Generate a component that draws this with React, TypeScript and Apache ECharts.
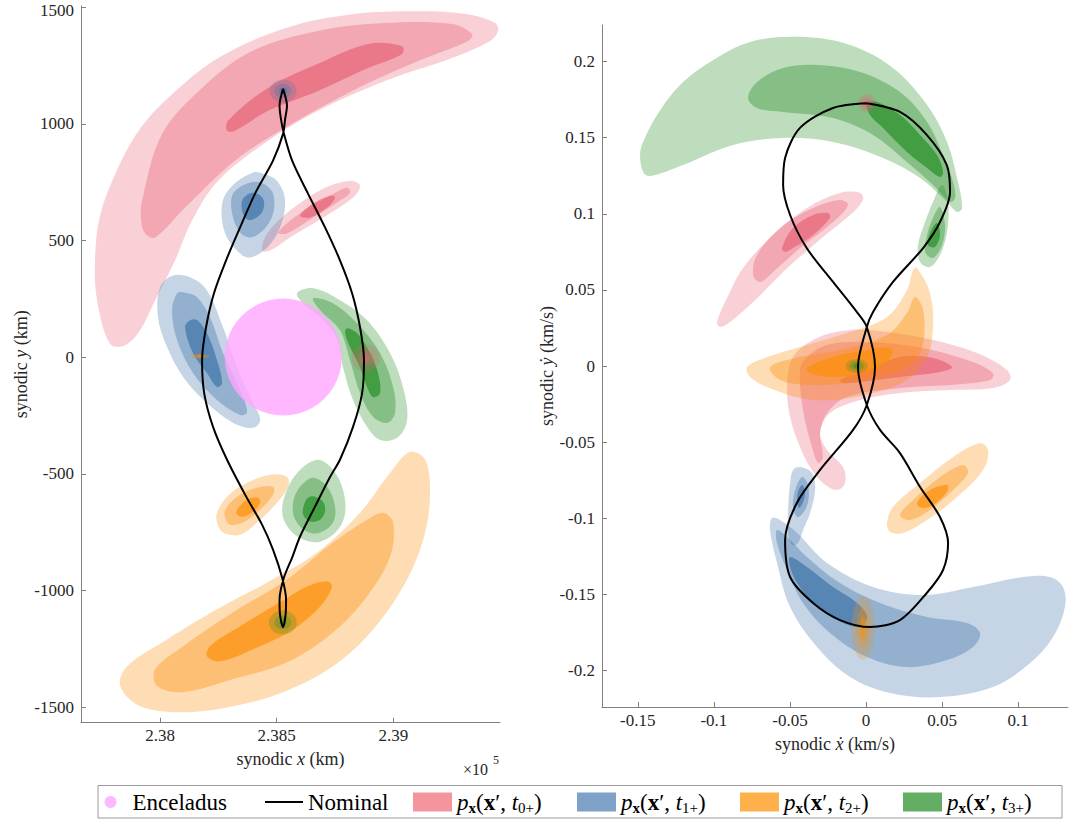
import React, { useEffect, useRef } from 'react';
import * as echarts from 'echarts';

const SERIF = "'Liberation Serif', 'DejaVu Serif', serif";

// ---------- axes ----------
const L_X_RANGE = [237661, 239457];
const L_Y_RANGE = [-1567, 1505];
const R_X_RANGE = [-0.1735, 0.1327];
const R_Y_RANGE = [-0.224, 0.224];
const L_X_TICKS = [238000, 238500, 239000];
const L_Y_TICKS = [-1500, -1000, -500, 0, 500, 1000, 1500];
const R_X_TICKS = [-0.15, -0.1, -0.05, 0, 0.05, 0.1];
const R_Y_TICKS = [-0.2, -0.15, -0.1, -0.05, 0, 0.05, 0.1, 0.15, 0.2];

// ---------- names ----------
const NAME_T = ['p_x(x\', t_0+)', 'p_x(x\', t_1+)', 'p_x(x\', t_2+)', 'p_x(x\', t_3+)'];
const SUBS = ['0+', '1+', '2+', '3+'];

// ---------- left plot (position, km) ----------
const ENCELADUS = [[238528, 0]];
const NOM_L = [[238527,1150],[238544,1077],[238536,1021],[238527,957],[238484,842],[238407,701],[238343,556],[238283,415],[238231,274],[238197,128],[238180,-13],[238189,-154],[238227,-299],[238287,-440],[238369,-598],[238437,-718],[238484,-825],[238523,-945],[238540,-1039],[238538,-1103],[238527,-1158],[238514,-1103],[238512,-1039],[238531,-945],[238566,-859],[238600,-769],[238664,-641],[238729,-513],[238771,-440],[238827,-299],[238866,-154],[238874,-13],[238857,128],[238823,274],[238771,415],[238707,556],[238634,701],[238566,842],[238531,957],[238518,1021],[238512,1077],[238527,1150]];

const redBigLight = [[237786,56],[237730,244],[237721,415],[237743,607],[237820,812],[237914,979],[238034,1111],[238249,1282],[238536,1410],[238823,1470],[239106,1483],[239320,1470],[239436,1432],[239449,1398],[239414,1355],[239251,1282],[238964,1184],[238677,1056],[238463,927],[238249,756],[238137,586],[238064,415],[237979,244],[237914,115],[237850,51]];
const redBigMid = [[239337,1385],[239251,1428],[238964,1432],[238677,1398],[238394,1312],[238180,1154],[238009,957],[237923,671],[237919,586],[237936,530],[237979,513],[238107,641],[238321,842],[238536,983],[238823,1141],[239106,1269],[239320,1355]];
const redBigDark = [[238291,1013],[238463,1154],[238677,1257],[238891,1342],[239037,1333],[239037,1299],[238891,1239],[238677,1141],[238463,1056],[238321,970],[238287,970]];
const redSmallLight = [[238437,457],[238459,530],[238557,628],[238699,722],[238814,756],[238857,735],[238827,684],[238699,598],[238557,513],[238471,457]];
const redSmallMid = [[238506,534],[238587,607],[238716,684],[238801,727],[238814,705],[238771,671],[238656,598],[238544,530]];
const redSmallDark = [[238600,607],[238656,658],[238729,692],[238750,684],[238716,641],[238643,598]];

const blueUpLight = [[238399,791],[238441,786],[238501,756],[238536,671],[238514,556],[238459,470],[238386,427],[238343,444],[238279,530],[238266,658],[238309,735]];
const blueUpMid = [[238386,748],[238441,744],[238484,701],[238484,615],[238441,543],[238386,513],[238343,534],[238309,615],[238313,701]];
const blueUpDark = [[238399,705],[238441,680],[238441,628],[238407,594],[238373,590],[238351,628],[238356,680]];
const blueLeftLight = [[238056,350],[238129,342],[238201,286],[238270,128],[238330,-43],[238399,-197],[238429,-269],[238399,-303],[238313,-282],[238201,-197],[238099,-85],[238030,43],[237991,171],[238000,299]];
const blueLeftMid = [[238099,278],[238159,256],[238214,171],[238270,17],[238343,-141],[238373,-235],[238343,-248],[238244,-184],[238141,-68],[238073,73],[238051,201],[238073,274]];
const blueLeftDark = [[238129,158],[238159,158],[238201,103],[238244,-13],[238266,-111],[238244,-128],[238201,-68],[238141,17],[238107,128]];

const orangeSmallLight = [[238244,-667],[238287,-598],[238373,-539],[238471,-504],[238544,-513],[238549,-556],[238501,-624],[238416,-709],[238343,-761],[238270,-752],[238244,-709]];
const orangeSmallMid = [[238279,-654],[238330,-598],[238416,-560],[238484,-556],[238484,-590],[238429,-654],[238356,-709],[238300,-718],[238279,-688]];
const orangeSmallDark = [[238330,-654],[238373,-611],[238420,-603],[238429,-624],[238399,-662],[238356,-684],[238330,-675]];
const orangeBigLight = [[239071,-406],[239136,-440],[239157,-568],[239136,-752],[239059,-953],[238913,-1167],[238741,-1325],[238527,-1436],[238313,-1496],[238099,-1522],[237914,-1496],[237829,-1410],[237859,-1325],[238030,-1210],[238244,-1081],[238459,-966],[238673,-838],[238857,-667],[238986,-496]];
const orangeBigMid = [[238956,-667],[238999,-709],[238986,-855],[238887,-1026],[238741,-1180],[238544,-1308],[238313,-1380],[238099,-1436],[237987,-1410],[237979,-1338],[238099,-1239],[238313,-1094],[238544,-953],[238741,-795],[238887,-697]];
const orangeBigDark = [[238716,-962],[238737,-983],[238686,-1069],[238570,-1167],[238399,-1252],[238257,-1304],[238201,-1282],[238214,-1239],[238343,-1154],[238514,-1051],[238630,-983]];

const greenRightLight = [[238587,274],[238656,295],[238771,244],[238887,158],[238986,17],[239041,-128],[239059,-269],[239016,-346],[238943,-355],[238887,-299],[238827,-184],[238784,-43],[238759,73],[238699,158],[238613,231]];
const greenRightMid = [[238656,252],[238741,231],[238844,145],[238943,17],[238999,-128],[239007,-239],[238973,-282],[238913,-256],[238857,-154],[238814,-13],[238771,115],[238686,201]];
const greenRightDark = [[238801,124],[238844,103],[238900,17],[238934,-68],[238943,-154],[238913,-171],[238887,-128],[238857,-43],[238814,43],[238793,103]];
const greenLowLight = [[238677,-440],[238741,-483],[238784,-568],[238793,-667],[238763,-739],[238686,-791],[238613,-782],[238549,-731],[238523,-662],[238544,-568],[238600,-483]];
const greenLowMid = [[238656,-517],[238716,-556],[238750,-641],[238741,-709],[238686,-752],[238630,-748],[238579,-697],[238570,-624],[238600,-556]];
const greenLowDark = [[238664,-598],[238699,-620],[238707,-662],[238686,-697],[238643,-705],[238613,-675],[238617,-633],[238634,-603]];

const L_TGT_BLUE = [238527, 1141];
const L_TGT_RED = [238882, -4];
const L_TGT_GREEN = [238526, -1137];
const L_TGT_ORANGE = [238171, 4];

// ---------- right plot (velocity, km/s) ----------
const NOM_R = [[0.0005,0.1726],[0.0223,0.1669],[0.0399,0.1518],[0.0530,0.1321],[0.0552,0.1143],[0.0486,0.0946],[0.0375,0.0775],[0.0177,0.0552],[0.0046,0.0355],[0.0005,0.0256],[-0.0053,-0.0007],[0.0005,-0.0256],[0.0092,-0.0420],[0.0223,-0.0572],[0.0355,-0.0795],[0.0486,-0.0992],[0.0539,-0.1163],[0.0506,-0.1340],[0.0399,-0.1491],[0.0223,-0.1669],[0.0026,-0.1715],[-0.0171,-0.1669],[-0.0348,-0.1557],[-0.0499,-0.1386],[-0.0532,-0.1143],[-0.0455,-0.0900],[-0.0302,-0.0683],[-0.0085,-0.0420],[0.0005,-0.0256],[0.0059,-0.0007],[0.0005,0.0256],[-0.0061,0.0355],[-0.0217,0.0552],[-0.0390,0.0775],[-0.0499,0.0992],[-0.0545,0.1189],[-0.0532,0.1367],[-0.0434,0.1564],[-0.0217,0.1695],[0.0005,0.1726]];

const rGreenBigLight = [[-0.1485,0.1386],[-0.1465,0.1275],[-0.1419,0.1248],[-0.1202,0.1321],[-0.0874,0.1452],[-0.0545,0.1498],[-0.0217,0.1472],[0.0112,0.1367],[0.0355,0.1235],[0.0532,0.1078],[0.0598,0.1012],[0.0631,0.1038],[0.0604,0.1209],[0.0532,0.1472],[0.0401,0.1715],[0.0177,0.1958],[-0.0105,0.2109],[-0.0434,0.2162],[-0.0762,0.2129],[-0.1025,0.1997],[-0.1222,0.1846],[-0.1373,0.1649],[-0.1465,0.1472]];
const rGreenBigMid = [[-0.0775,0.1761],[-0.0716,0.1866],[-0.0545,0.1958],[-0.0322,0.1978],[-0.0039,0.1932],[0.0223,0.1800],[0.0401,0.1603],[0.0506,0.1386],[0.0572,0.1209],[0.0585,0.1104],[0.0552,0.1078],[0.0440,0.1189],[0.0269,0.1340],[0.0046,0.1518],[-0.0217,0.1629],[-0.0545,0.1669],[-0.0716,0.1695]];
const rGreenBigDark = [[0.0007,0.1728],[0.0072,0.1735],[0.0223,0.1649],[0.0355,0.1518],[0.0466,0.1386],[0.0506,0.1275],[0.0486,0.1242],[0.0401,0.1301],[0.0269,0.1406],[0.0112,0.1564],[0.0026,0.1649]];
const rGreenSmallLight = [[0.0499,0.1189],[0.0539,0.1078],[0.0532,0.0880],[0.0486,0.0729],[0.0420,0.0650],[0.0355,0.0683],[0.0342,0.0795],[0.0388,0.0946],[0.0440,0.1078]];
const rGreenSmallMid = [[0.0486,0.1045],[0.0519,0.0926],[0.0499,0.0795],[0.0440,0.0710],[0.0388,0.0749],[0.0401,0.0861],[0.0440,0.0972]];
const rGreenSmallDark = [[0.0466,0.0940],[0.0486,0.0861],[0.0453,0.0782],[0.0407,0.0795],[0.0420,0.0874]];

const rRedUpLight = [[-0.0979,0.0289],[-0.0913,0.0447],[-0.0808,0.0644],[-0.0611,0.0861],[-0.0388,0.1038],[-0.0171,0.1137],[-0.0039,0.1137],[-0.0020,0.1091],[-0.0105,0.0992],[-0.0322,0.0815],[-0.0545,0.0618],[-0.0742,0.0420],[-0.0894,0.0289],[-0.0959,0.0256]];
const rRedUpMid = [[-0.0742,0.0598],[-0.0716,0.0729],[-0.0565,0.0907],[-0.0348,0.1038],[-0.0171,0.1091],[-0.0118,0.1058],[-0.0217,0.0946],[-0.0434,0.0775],[-0.0611,0.0618],[-0.0696,0.0552]];
const rRedUpDark = [[-0.0552,0.0775],[-0.0480,0.0907],[-0.0348,0.0992],[-0.0250,0.1005],[-0.0237,0.0972],[-0.0348,0.0861],[-0.0480,0.0775],[-0.0532,0.0749]];
const rRedMidLight = [[-0.0519,-0.0138],[-0.0499,-0.0335],[-0.0434,-0.0532],[-0.0368,-0.0664],[-0.0283,-0.0769],[-0.0191,-0.0815],[-0.0138,-0.0769],[-0.0151,-0.0664],[-0.0256,-0.0552],[-0.0302,-0.0440],[-0.0237,-0.0309],[-0.0039,-0.0223],[0.0223,-0.0177],[0.0552,-0.0158],[0.0834,-0.0145],[0.0946,-0.0092],[0.0926,-0.0026],[0.0729,0.0085],[0.0440,0.0171],[0.0138,0.0223],[-0.0105,0.0237],[-0.0322,0.0184],[-0.0480,0.0059]];
const rRedMidMid = [[-0.0434,-0.0026],[-0.0414,-0.0289],[-0.0368,-0.0486],[-0.0315,-0.0637],[-0.0283,-0.0598],[-0.0302,-0.0440],[-0.0256,-0.0309],[-0.0125,-0.0204],[0.0223,-0.0145],[0.0552,-0.0125],[0.0815,-0.0092],[0.0834,-0.0046],[0.0664,0.0039],[0.0335,0.0125],[0.0007,0.0158],[-0.0256,0.0138],[-0.0388,0.0059]];
const rRedMidDark = [[-0.0171,-0.0092],[0.0007,-0.0026],[0.0223,0.0059],[0.0440,0.0053],[0.0565,-0.0007],[0.0486,-0.0039],[0.0223,-0.0072],[-0.0039,-0.0105],[-0.0151,-0.0112]];

const rOrangeMidLight = [[0.0335,0.0644],[0.0420,0.0480],[0.0440,0.0256],[0.0401,0.0059],[0.0269,-0.0092],[0.0046,-0.0177],[-0.0217,-0.0223],[-0.0434,-0.0210],[-0.0650,-0.0138],[-0.0762,-0.0072],[-0.0782,-0.0007],[-0.0650,0.0059],[-0.0434,0.0125],[-0.0105,0.0223],[0.0138,0.0322],[0.0269,0.0499],[0.0309,0.0631]];
const rOrangeMidMid = [[-0.0631,-0.0007],[-0.0434,0.0059],[-0.0171,0.0105],[0.0138,0.0204],[0.0269,0.0348],[0.0322,0.0453],[0.0375,0.0368],[0.0375,0.0151],[0.0309,0.0020],[0.0138,-0.0059],[-0.0125,-0.0112],[-0.0368,-0.0125],[-0.0565,-0.0092]];
const rOrangeMidDark = [[-0.0388,-0.0013],[-0.0217,0.0059],[0.0007,0.0105],[0.0158,0.0118],[0.0171,0.0072],[0.0092,-0.0007],[-0.0059,-0.0059],[-0.0237,-0.0072],[-0.0368,-0.0046]];
const rOrangeLowLight = [[0.0138,-0.1032],[0.0177,-0.0926],[0.0355,-0.0769],[0.0572,-0.0598],[0.0749,-0.0506],[0.0802,-0.0552],[0.0769,-0.0683],[0.0598,-0.0861],[0.0401,-0.1012],[0.0243,-0.1097],[0.0158,-0.1091]];
const rOrangeLowMid = [[0.0223,-0.0979],[0.0309,-0.0880],[0.0486,-0.0729],[0.0637,-0.0650],[0.0670,-0.0703],[0.0572,-0.0815],[0.0420,-0.0946],[0.0289,-0.1012]];
const rOrangeLowDark = [[0.0335,-0.0900],[0.0420,-0.0815],[0.0532,-0.0782],[0.0532,-0.0828],[0.0440,-0.0913],[0.0368,-0.0933]];

const rBlueSmallLight = [[-0.0434,-0.0664],[-0.0355,-0.0703],[-0.0335,-0.0815],[-0.0368,-0.0966],[-0.0414,-0.1078],[-0.0447,-0.1163],[-0.0486,-0.1176],[-0.0512,-0.1097],[-0.0512,-0.0946],[-0.0499,-0.0769],[-0.0480,-0.0683]];
const rBlueSmallMid = [[-0.0420,-0.0729],[-0.0381,-0.0782],[-0.0381,-0.0894],[-0.0414,-0.0966],[-0.0453,-0.0992],[-0.0480,-0.0926],[-0.0466,-0.0815]];
const rBlueSmallDark = [[-0.0420,-0.0782],[-0.0401,-0.0828],[-0.0414,-0.0894],[-0.0440,-0.0933],[-0.0453,-0.0894],[-0.0447,-0.0828]];
const rBlueBigLight = [[-0.0618,-0.0999],[-0.0565,-0.1012],[-0.0453,-0.1097],[-0.0256,-0.1294],[0.0046,-0.1452],[0.0375,-0.1505],[0.0703,-0.1452],[0.1032,-0.1386],[0.1209,-0.1386],[0.1294,-0.1452],[0.1307,-0.1583],[0.1229,-0.1780],[0.1078,-0.1951],[0.0834,-0.2109],[0.0486,-0.2175],[0.0158,-0.2148],[-0.0105,-0.2043],[-0.0322,-0.1846],[-0.0499,-0.1583],[-0.0585,-0.1294],[-0.0631,-0.1078]];
const rBlueBigMid = [[-0.0585,-0.1078],[-0.0519,-0.1123],[-0.0388,-0.1255],[-0.0171,-0.1426],[0.0092,-0.1557],[0.0401,-0.1649],[0.0664,-0.1688],[0.0749,-0.1754],[0.0703,-0.1846],[0.0532,-0.1932],[0.0269,-0.1978],[0.0007,-0.1912],[-0.0237,-0.1754],[-0.0414,-0.1557],[-0.0519,-0.1340],[-0.0585,-0.1163]];
const rBlueBigDark = [[-0.0499,-0.1255],[-0.0388,-0.1321],[-0.0217,-0.1452],[-0.0059,-0.1557],[0.0007,-0.1649],[-0.0039,-0.1715],[-0.0191,-0.1669],[-0.0348,-0.1557],[-0.0453,-0.1426],[-0.0499,-0.1321]];

const R_TGT_RED = [0.0005, 0.1726];
const R_TGT_GREEN = [-0.0061, 0];
const R_TGT_ORANGE = [-0.0020, -0.1721];

// ---------- styling ----------
const BASE = ['232,98,118', '62,115,168', '252,142,8', '38,142,38'];
const LEGEND_COLORS = ['#F4949F', '#7DA1C7', '#FEB04B', '#63AE63'];
const ALPHA = [0.3, 0.37, 0.69];
const ELLIPSE = 'path://M10,0C15.5,0,20,4.5,20,10C20,15.5,15.5,20,10,20C4.5,20,0,15.5,0,10C0,4.5,4.5,0,10,0Z';

type Pt = number[];
type Poly = [Pt[], number];

const polySeries = (polys: Poly[], group: number, axis: number) => ({
  type: 'custom',
  name: NAME_T[group],
  xAxisIndex: axis,
  yAxisIndex: axis,
  clip: true,
  silent: true,
  itemStyle: { color: LEGEND_COLORS[group] },
  encode: { x: 0, y: 1 },
  data: polys.map((p, i) => [p[0][0][0], p[0][0][1], i]),
  renderItem: (params: any, api: any) => {
    const i = api.value(2);
    const [pts, lvl] = polys[i];
    return {
      type: 'polygon',
      shape: { points: pts.map((q) => api.coord(q)), smooth: 0.35 },
      style: { fill: `rgba(${BASE[group]},${ALPHA[lvl]})`, stroke: null },
      silent: true,
    };
  },
});

const targetItems = (pt: Pt, group: number, sizes: number[][]) =>
  sizes.map((s, lvl) => ({
    value: pt,
    symbolSize: s,
    itemStyle: { color: `rgba(${BASE[group]},${ALPHA[lvl]})` },
  }));

const targetSeries = (items: any[], axis: number) => ({
  type: 'scatter',
  name: 'targets' + axis,
  xAxisIndex: axis,
  yAxisIndex: axis,
  symbol: ELLIPSE,
  silent: true,
  data: items,
});

const nominalSeries = (data: Pt[], axis: number) => ({
  type: 'line',
  name: 'Nominal',
  xAxisIndex: axis,
  yAxisIndex: axis,
  data,
  symbol: 'none',
  smooth: 0.3,
  silent: true,
  color: '#000',
  lineStyle: { color: '#000', width: 2 },
});

const labelStyle = {
  color: '#262626',
  fontSize: 17,
  fontFamily: SERIF,
  margin: 7,
  lineHeight: 12,
  rich: { t: { color: '#262626', fontSize: 17, fontFamily: SERIF, lineHeight: 12, padding: [6, 0, 0, 0] } },
};

const axisBase = (ticks: number[], range: number[], gridIndex: number, extra: any) => ({
  type: 'value',
  gridIndex,
  min: range[0],
  max: range[1],
  axisLine: { show: true, onZero: false, lineStyle: { color: '#808080', width: 1 } },
  axisTick: { show: true, inside: true, length: 5, customValues: ticks, lineStyle: { color: '#808080' } },
  axisLabel: { customValues: ticks, ...labelStyle, formatter: (v: number) => String(v) },
  splitLine: { show: false },
  nameLocation: 'middle',
  nameTextStyle: {
    color: '#262626',
    fontSize: 18,
    fontFamily: SERIF,
    rich: { i: { fontStyle: 'italic', fontSize: 18, fontFamily: SERIF, color: '#262626' } },
  },
  ...extra,
});

const legendRich = {
  rm: { fontSize: 23, fontFamily: SERIF, lineHeight: 26, color: '#000' },
  it: { fontSize: 23, fontFamily: SERIF, fontStyle: 'italic', lineHeight: 26, color: '#000' },
  bf: { fontSize: 23, fontFamily: SERIF, fontWeight: 'bold', lineHeight: 26, color: '#000' },
  sb: { fontSize: 15, fontFamily: SERIF, fontWeight: 'bold', lineHeight: 12, verticalAlign: 'bottom', color: '#000' },
  sr: { fontSize: 15, fontFamily: SERIF, lineHeight: 12, verticalAlign: 'bottom', color: '#000' },
};

const legendFormatter = (name: string) => {
  const k = NAME_T.indexOf(name);
  if (k < 0) return `{rm|${name}}`;
  return `{it|p}{sb|x}{rm|(}{bf|x}{rm|′, }{it|t}{sr|${SUBS[k]}}{rm|)}`;
};

const legendAt = (name: string, left: number, w: number, h: number, icon: string) => ({
  data: [{ name, icon }],
  left,
  top: 789,
  orient: 'horizontal',
  padding: 0,
  itemWidth: w,
  itemHeight: h,
  selectedMode: false,
  formatter: legendFormatter,
  textStyle: { fontFamily: SERIF, fontSize: 23, color: '#000', lineHeight: 26, rich: legendRich },
});

export default function App() {
  const ref = useRef<HTMLDivElement>(null);
  useEffect(() => {
    if (!ref.current) return;
    const chart = echarts.init(ref.current, null, { renderer: 'svg' });

    const leftRed: Poly[] = [[redBigLight, 0], [redBigMid, 1], [redBigDark, 2], [redSmallLight, 0], [redSmallMid, 1], [redSmallDark, 2]];
    const leftBlue: Poly[] = [[blueUpLight, 0], [blueUpMid, 1], [blueUpDark, 2], [blueLeftLight, 0], [blueLeftMid, 1], [blueLeftDark, 2]];
    const leftOrange: Poly[] = [[orangeSmallLight, 0], [orangeSmallMid, 1], [orangeSmallDark, 2], [orangeBigLight, 0], [orangeBigMid, 1], [orangeBigDark, 2]];
    const leftGreen: Poly[] = [[greenRightLight, 0], [greenRightMid, 1], [greenRightDark, 2], [greenLowLight, 0], [greenLowMid, 1], [greenLowDark, 2]];
    const rightRed: Poly[] = [[rRedUpLight, 0], [rRedUpMid, 1], [rRedUpDark, 2], [rRedMidLight, 0], [rRedMidMid, 1], [rRedMidDark, 2]];
    const rightBlue: Poly[] = [[rBlueSmallLight, 0], [rBlueSmallMid, 1], [rBlueSmallDark, 2], [rBlueBigLight, 0], [rBlueBigMid, 1], [rBlueBigDark, 2]];
    const rightOrange: Poly[] = [[rOrangeMidLight, 0], [rOrangeMidMid, 1], [rOrangeMidDark, 2], [rOrangeLowLight, 0], [rOrangeLowMid, 1], [rOrangeLowDark, 2]];
    const rightGreen: Poly[] = [[rGreenBigLight, 0], [rGreenBigMid, 1], [rGreenBigDark, 2], [rGreenSmallLight, 0], [rGreenSmallMid, 1], [rGreenSmallDark, 2]];

    const leftTargets = [
      ...targetItems(L_TGT_BLUE, 1, [[27, 23], [17, 14], [8, 7]]),
      ...targetItems(L_TGT_RED, 0, [[28, 28], [16, 16], [8, 8]]),
      ...targetItems(L_TGT_GREEN, 3, [[28, 24], [17, 14], [7, 6]]),
      ...targetItems(L_TGT_ORANGE, 2, [[19, 5], [12, 4], [6, 3]]),
    ];
    const rightTargets = [
      ...targetItems(R_TGT_RED, 0, [[18, 18], [12, 12], [6, 6]]),
      ...targetItems(R_TGT_GREEN, 3, [[22, 14], [14, 9], [7, 5]]),
      ...targetItems(R_TGT_ORANGE, 2, [[23, 63], [13, 40], [6, 22]]),
    ];

    const topY = L_Y_TICKS[L_Y_TICKS.length - 1];

    const option: any = {
      animation: false,
      backgroundColor: '#ffffff',
      textStyle: { fontFamily: SERIF },
      grid: [
        { left: 81, top: 6, width: 419, height: 716.7, outerBoundsMode: 'none' },
        { left: 602, top: 25, width: 466, height: 682, outerBoundsMode: 'none' },
      ],
      xAxis: [
        axisBase(L_X_TICKS, L_X_RANGE, 0, {
          name: 'synodic {i|x} (km)',
          nameGap: 27,
          axisLabel: { customValues: L_X_TICKS, ...labelStyle, formatter: (v: number) => String(v / 1e5) },
        }),
        axisBase(R_X_TICKS, R_X_RANGE, 1, { name: 'synodic {i|ẋ} (km/s)', nameGap: 28 }),
      ],
      yAxis: [
        axisBase(L_Y_TICKS, L_Y_RANGE, 0, {
          name: 'synodic {i|y} (km)',
          nameGap: 50,
          nameRotate: 90,
          axisLabel: {
            customValues: L_Y_TICKS,
            ...labelStyle,
            formatter: (v: number) => (v === topY ? `{t|${v}}` : String(v)),
          },
        }),
        axisBase(R_Y_TICKS, R_Y_RANGE, 1, { name: 'synodic {i|ẏ} (km/s)', nameGap: 45, nameRotate: 90 }),
      ],
      legend: [
        legendAt('Enceladus', 104.5, 34, 12, 'circle'),
        legendAt('Nominal', 265, 38, 2, 'rect'),
        legendAt(NAME_T[0], 413, 39, 19, 'rect'),
        legendAt(NAME_T[1], 577, 39, 19, 'rect'),
        legendAt(NAME_T[2], 740, 39, 19, 'rect'),
        legendAt(NAME_T[3], 903, 39, 19, 'rect'),
      ],
      graphic: [
        {
          type: 'rect',
          z: -1,
          shape: { x: 98, y: 785.5, width: 964, height: 32.5 },
          style: { fill: '#fff', stroke: '#9a9a9a', lineWidth: 1 },
          silent: true,
        },
        { type: 'text', x: 463, y: 761, style: { text: '×10', fontSize: 16, fontFamily: SERIF, fill: '#262626', verticalAlign: 'top' } },
        { type: 'text', x: 493, y: 754, style: { text: '5', fontSize: 12, fontFamily: SERIF, fill: '#262626', verticalAlign: 'top' } },
      ],
      series: [
        {
          type: 'scatter',
          name: 'Enceladus',
          xAxisIndex: 0,
          yAxisIndex: 0,
          data: ENCELADUS,
          symbol: 'circle',
          symbolSize: 117,
          silent: true,
          itemStyle: { color: '#FFA6FF' },
        },
        nominalSeries(NOM_L, 0),
        polySeries(leftRed, 0, 0),
        polySeries(leftBlue, 1, 0),
        polySeries(leftOrange, 2, 0),
        polySeries(leftGreen, 3, 0),
        targetSeries(leftTargets, 0),
        nominalSeries(NOM_R, 1),
        polySeries(rightRed, 0, 1),
        polySeries(rightBlue, 1, 1),
        polySeries(rightOrange, 2, 1),
        polySeries(rightGreen, 3, 1),
        targetSeries(rightTargets, 1),
      ],
    };
    chart.setOption(option);
    return () => chart.dispose();
  }, []);
  return (
    <div
      ref={ref}
      style={{ position: 'fixed', left: 0, top: 0, width: 1070, height: 822, background: '#fff' }}
    />
  );
}
